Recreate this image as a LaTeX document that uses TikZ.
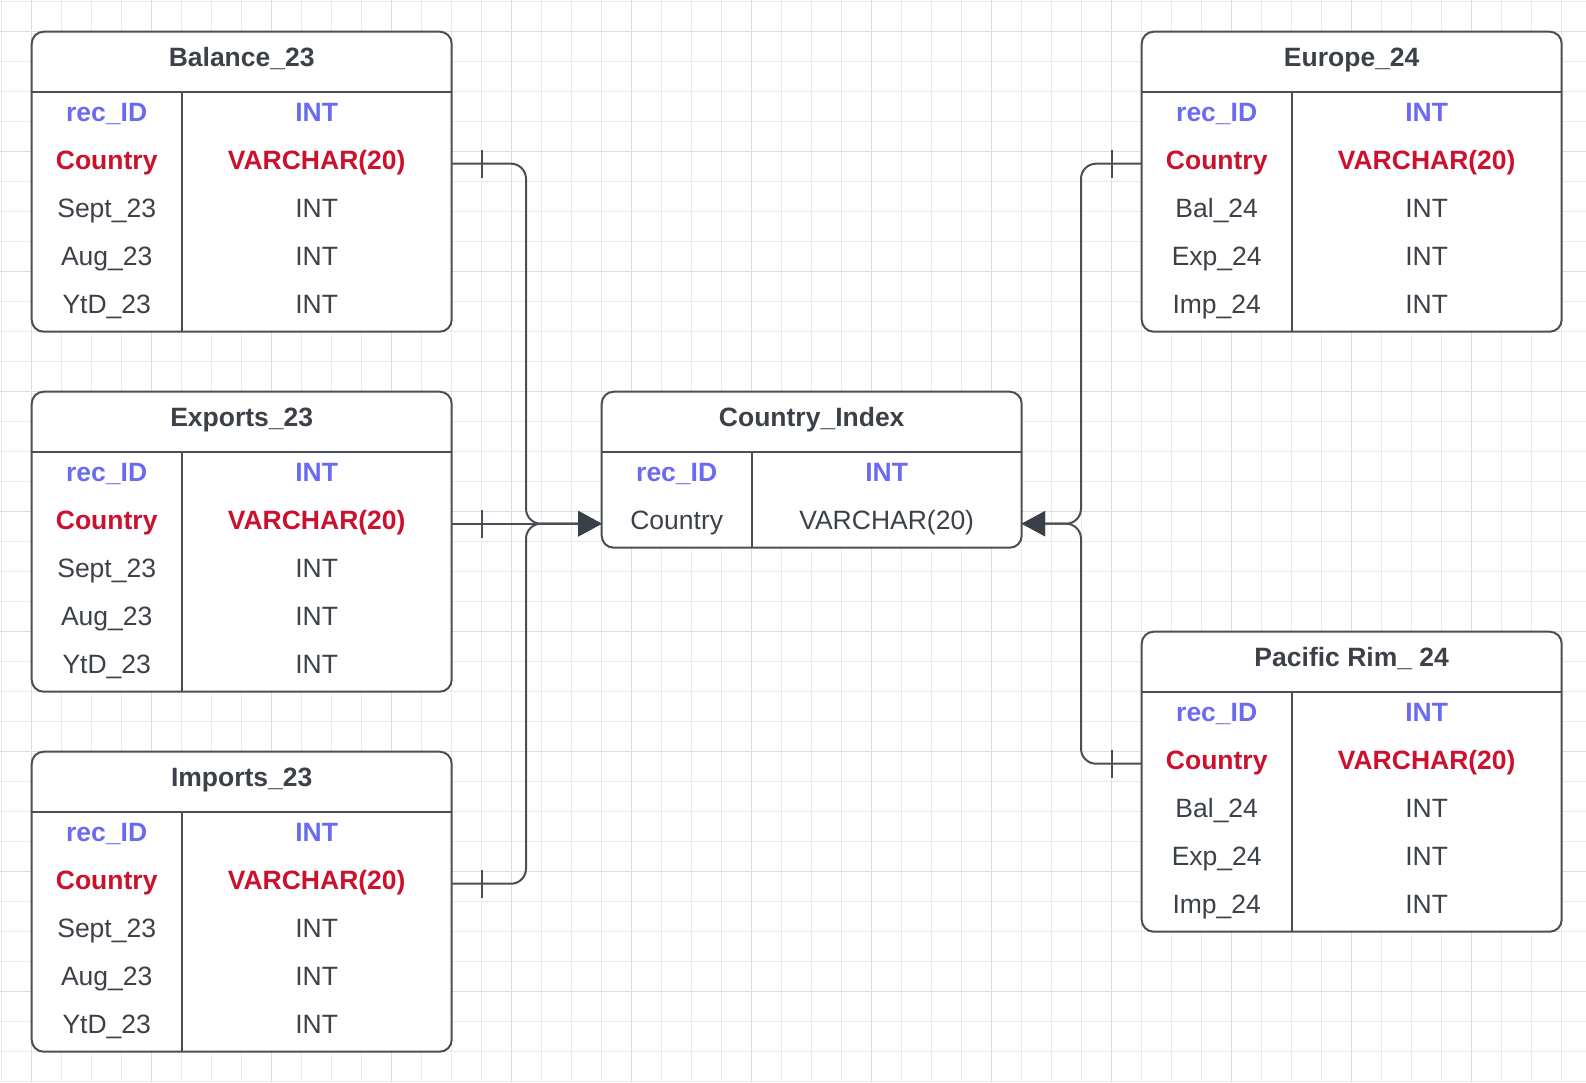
\documentclass[tikz,border=0pt]{standalone}
\usepackage{fontspec}
\setmainfont{Liberation Sans}
\usetikzlibrary{arrows.meta,calc}
\definecolor{gridc}{HTML}{EBEBEB}
\definecolor{gridm}{HTML}{DDDDDD}
\definecolor{linec}{HTML}{4B4E54}
\definecolor{txt}{HTML}{3C4048}
\definecolor{pkc}{HTML}{6B6BF2}
\definecolor{fkc}{HTML}{CC112E}
\definecolor{arrc}{HTML}{3A4049}
\newcommand\ertable[6]{%
  \node[tblbox, minimum height={(60+48*#5)*1pt}, anchor=north west] (#1) at (#2,#3) {};
  \draw[tblline] ($(#1.north west)+(0,60)$) -- ($(#1.north east)+(0,60)$);
  \draw[tblline] ($(#1.north west)+(150,60)$) -- ($(#1.south west)+(150,0)$);
  \node[ttl] (#1-title) at ($(#1.north)+(0,30)$) {#4};
  \foreach \fname/\ftype/\fsty [count=\i] in {#6} {%
    \node[cell, minimum width=150pt, \fsty] (#1-k\i) at ($(#1.north west)+(75,{36+48*\i})$) {\fname};
    \node[cell, minimum width=270pt, \fsty] (#1-t\i) at ($(#1.north west)+(285,{36+48*\i})$) {\ftype};
  }%
}
\begin{document}
\begin{tikzpicture}[x=1pt,y=-1pt,
  tblbox/.style={draw=linec, line width=2pt, fill=white, rounded corners=12pt,
    minimum width=420pt, inner sep=0pt, outer sep=0pt},
  tblline/.style={draw=linec, line width=2pt},
  ttl/.style={inner sep=0pt, text height=19pt, text depth=9pt, text=txt,
    font=\fontsize{26.5}{30}\selectfont\bfseries},
  cell/.style={inner sep=0pt, outer sep=0pt, minimum height=48pt, text height=19pt,
    text depth=7pt, text=txt, font=\fontsize{26.5}{30}\selectfont},
  fpk/.style={text=pkc, font=\fontsize{26.5}{30}\selectfont\bfseries},
  ffk/.style={text=fkc, font=\fontsize{26.5}{30}\selectfont\bfseries},
  fpl/.style={},
  conn/.style={draw=linec, line width=2pt, rounded corners=15pt},
  tip/.style={-{Triangle[length=23.5pt,width=25pt,color=arrc]}},
  tick/.style={draw=linec, line width=2pt}]
\useasboundingbox (0,0) rectangle (1586,1082);
\fill[white] (0,0) rectangle (1586,1082);
\foreach \k in {0,...,52} \draw[gridc, line width=1pt] ({1.7+30*\k},0) -- ({1.7+30*\k},1082);
\foreach \k in {0,...,36} \draw[gridc, line width=1pt] (0,{1.7+30*\k}) -- (1586,{1.7+30*\k});
\foreach \k in {1,5,...,49} \draw[gridm, line width=1pt] ({1.7+30*\k},0) -- ({1.7+30*\k},1082);
\foreach \k in {1,5,...,33} \draw[gridm, line width=1pt] (0,{1.7+30*\k}) -- (1586,{1.7+30*\k});

\ertable{bal}{31.7}{31.7}{Balance\_23}{5}{rec\_ID/INT/fpk, Country/VARCHAR(20)/ffk, Sept\_23/INT/fpl, Aug\_23/INT/fpl, YtD\_23/INT/fpl}
\ertable{ex}{31.7}{391.7}{Exports\_23}{5}{rec\_ID/INT/fpk, Country/VARCHAR(20)/ffk, Sept\_23/INT/fpl, Aug\_23/INT/fpl, YtD\_23/INT/fpl}
\ertable{im}{31.7}{751.7}{Imports\_23}{5}{rec\_ID/INT/fpk, Country/VARCHAR(20)/ffk, Sept\_23/INT/fpl, Aug\_23/INT/fpl, YtD\_23/INT/fpl}
\ertable{ci}{601.7}{391.7}{Country\_Index}{2}{rec\_ID/INT/fpk, Country/VARCHAR(20)/fpl}
\ertable{eu}{1141.7}{31.7}{Europe\_24}{5}{rec\_ID/INT/fpk, Country/VARCHAR(20)/ffk, Bal\_24/INT/fpl, Exp\_24/INT/fpl, Imp\_24/INT/fpl}
\ertable{pr}{1141.7}{631.7}{Pacific Rim\_ 24}{5}{rec\_ID/INT/fpk, Country/VARCHAR(20)/ffk, Bal\_24/INT/fpl, Exp\_24/INT/fpl, Imp\_24/INT/fpl}

\coordinate (busL) at (526,523.7);
\coordinate (busR) at (1081,523.7);
\draw[conn, tip] (bal-t2.east) -| (busL) -- (ci-k2.west);
\draw[conn, tip] (im-t2.east) -| (busL) -- (ci-k2.west);
\draw[conn, tip] (ex-t2.east) -- (ci-k2.west);
\draw[conn, tip] (eu-k2.west) -| (busR) -- (ci-t2.east);
\draw[conn, tip] (pr-k2.west) -| (busR) -- (ci-t2.east);
\draw[tick] ($(bal-t2.east)+(30,-14)$) -- ++(0,28);
\draw[tick] ($(ex-t2.east)+(30,-14)$) -- ++(0,28);
\draw[tick] ($(im-t2.east)+(30,-14)$) -- ++(0,28);
\draw[tick] ($(eu-k2.west)+(-30,-14)$) -- ++(0,28);
\draw[tick] ($(pr-k2.west)+(-30,-14)$) -- ++(0,28);
\end{tikzpicture}
\end{document}
